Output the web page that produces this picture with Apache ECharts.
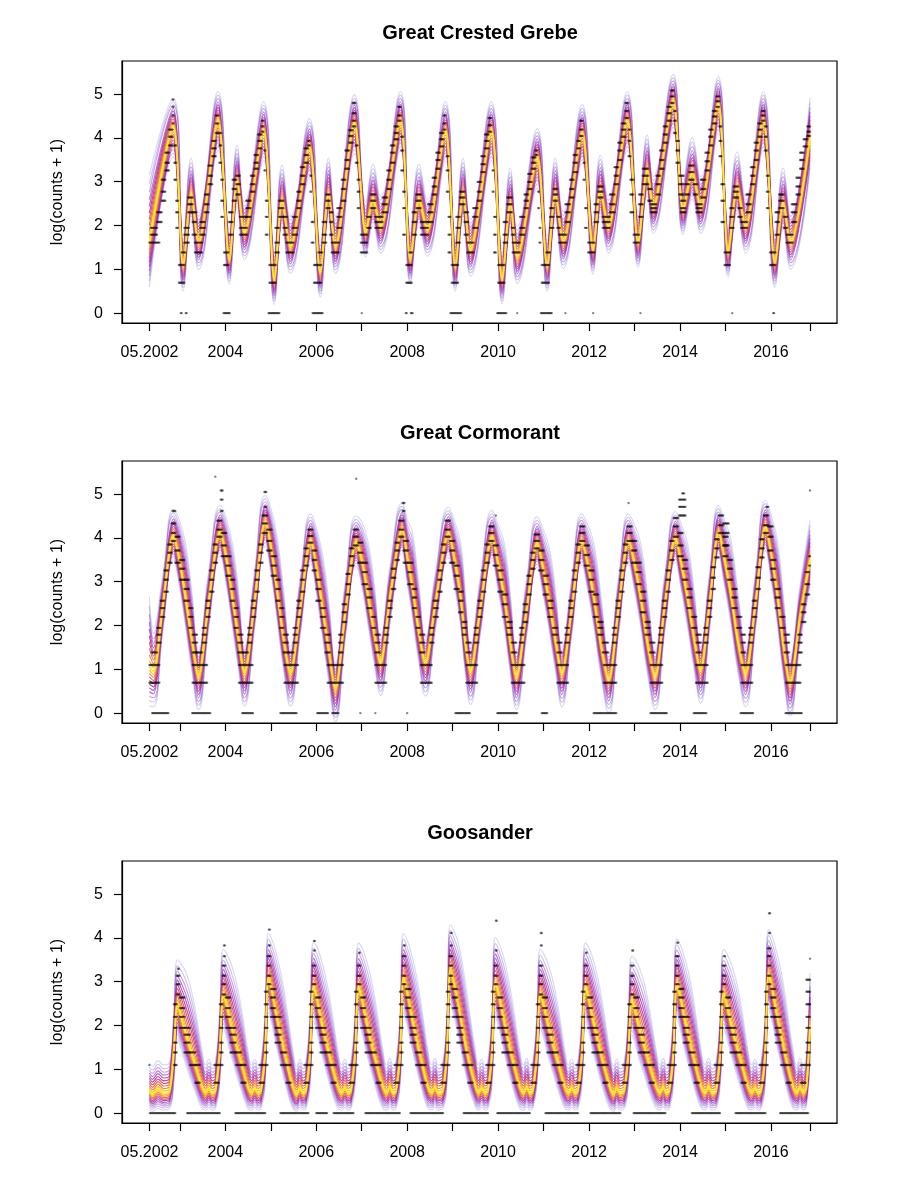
<!DOCTYPE html>
<html>
<head>
<meta charset="utf-8">
<script src="https://cdn.jsdelivr.net/npm/echarts@6/dist/echarts.min.js"></script>
<style>html,body{margin:0;padding:0;background:#fff}#chart{width:900px;height:1200px}</style>
</head>
<body>
<div id="chart"></div>
<script>
// ---------------- data ----------------
const panelTitles = ['Great Crested Grebe', 'Great Cormorant', 'Goosander'];
const yAxisName = 'log(counts + 1)';
const yTickValues = [0, 1, 2, 3, 4, 5];
const xTickValues = [2002.333, 2003, 2004, 2005, 2006, 2007, 2008, 2009, 2010, 2011, 2012, 2013, 2014, 2015, 2016, 2016.86];
const xLabelValues = [2002.333, 2004, 2006, 2008, 2010, 2012, 2014, 2016];
const xLabelTexts = ['05.2002', '2004', '2006', '2008', '2010', '2012', '2014', '2016'];
// quantile band positions (fraction of outer half-width), outer -> centre
const quantileFractions = [1, 0.87, 0.75, 0.64, 0.54, 0.44, 0.35, 0.26, 0.17, 0.085, 0];

// curve knots: [time, median, upper half-width, lower half-width]
const grebeCurve = [
[2002.33,1.6,1.55,1.0],[2002.855,4.26,0.65,0.7],[2003.075,1.06,0.7,0.55],[2003.25,2.74,0.8,0.6],[2003.41,1.6,0.7,0.6],
[2003.84,4.41,0.65,0.7],[2004.09,1.21,0.7,0.55],[2004.26,3.04,0.8,0.6],[2004.42,1.83,0.7,0.6],
[2004.84,4.18,0.65,0.7],[2005.08,0.75,0.7,0.55],[2005.25,2.58,0.8,0.6],[2005.43,1.51,0.7,0.6],
[2005.85,3.79,0.65,0.7],[2006.09,0.92,0.7,0.55],[2006.27,2.74,0.8,0.6],[2006.42,1.51,0.7,0.6],
[2006.84,4.34,0.65,0.7],[2007.09,1.83,0.7,0.55],[2007.25,2.6,0.8,0.6],[2007.41,1.97,0.7,0.6],
[2007.85,4.41,0.65,0.7],[2008.07,1.21,0.7,0.55],[2008.26,2.6,0.8,0.6],[2008.44,1.9,0.7,0.6],
[2008.84,4.18,0.65,0.7],[2009.06,1.05,0.7,0.55],[2009.23,2.74,0.8,0.6],[2009.39,1.44,0.7,0.6],
[2009.85,4.18,0.65,0.7],[2010.09,0.76,0.7,0.55],[2010.27,2.51,0.8,0.6],[2010.42,1.28,0.7,0.6],
[2010.86,3.56,0.65,0.7],[2011.08,1.05,0.7,0.55],[2011.26,2.74,0.8,0.6],[2011.43,1.62,0.7,0.6],
[2011.85,4.11,0.65,0.7],[2012.09,1.44,0.7,0.55],[2012.25,2.81,0.8,0.6],[2012.42,1.97,0.7,0.6],
[2012.84,4.41,0.65,0.7],[2013.08,1.6,0.7,0.55],[2013.28,3.27,0.8,0.6],[2013.41,2.42,0.7,0.6],
[2013.85,4.85,0.6,0.7],[2014.07,2.35,0.7,0.55],[2014.27,3.2,0.8,0.6],[2014.45,2.42,0.7,0.6],
[2014.84,4.8,0.6,0.7],[2015.06,1.37,0.7,0.55],[2015.26,2.88,0.8,0.6],[2015.44,1.97,0.7,0.6],
[2015.83,4.41,0.65,0.7],[2016.09,1.14,0.7,0.55],[2016.27,2.51,0.8,0.6],[2016.43,1.6,0.7,0.6],
[2016.86,4.02,0.9,0.7]
];
const cormorantCurve = [
[2002.33,1.06,1.6,0.9],[2002.42,0.95,1.0,0.8],[2002.62,2.4,0.7,0.6],
[2002.86,4.05,0.6,0.55],[2002.99,3.5,0.9,0.6],[2003.13,2.6,1.25,0.65],[2003.26,1.7,1.1,0.7],[2003.41,0.83,0.6,0.75],[2003.63,2.5,0.7,0.6],
[2003.89,4.14,0.6,0.55],[2004.02,3.55,0.9,0.6],[2004.16,2.6,1.25,0.65],[2004.29,1.7,1.1,0.7],[2004.42,0.91,0.6,0.75],[2004.64,2.5,0.7,0.6],
[2004.88,4.37,0.6,0.55],[2005.01,3.75,0.9,0.6],[2005.15,2.7,1.25,0.65],[2005.28,1.7,1.1,0.7],[2005.43,0.91,0.6,0.75],[2005.65,2.4,0.7,0.6],
[2005.88,3.95,0.6,0.55],[2006.01,3.3,0.9,0.6],[2006.15,2.3,1.25,0.65],[2006.28,1.4,1.1,0.7],[2006.42,0.55,0.6,0.75],[2006.64,2.3,0.7,0.6],
[2006.88,3.9,0.6,0.55],[2007.01,3.45,0.9,0.6],[2007.15,2.6,1.25,0.65],[2007.28,1.8,1.1,0.7],[2007.41,1.15,0.6,0.75],[2007.63,2.7,0.7,0.6],
[2007.89,4.2,0.6,0.55],[2008.01,3.5,0.9,0.6],[2008.11,2.9,1.25,0.65],[2008.25,1.9,1.1,0.7],[2008.4,1.14,0.6,0.75],[2008.62,2.5,0.7,0.6],
[2008.91,4.1,0.6,0.55],[2009.05,3.45,0.9,0.6],[2009.18,2.6,1.25,0.65],[2009.28,1.6,1.1,0.7],[2009.39,0.95,0.6,0.75],[2009.61,2.4,0.7,0.6],
[2009.87,4.03,0.6,0.55],[2010.0,3.4,0.9,0.6],[2010.14,2.6,1.25,0.65],[2010.27,1.6,1.1,0.7],[2010.4,0.83,0.6,0.75],[2010.62,2.3,0.7,0.6],
[2010.86,3.88,0.6,0.55],[2010.99,3.3,0.9,0.6],[2011.13,2.5,1.25,0.65],[2011.27,1.6,1.1,0.7],[2011.4,0.9,0.6,0.75],[2011.61,2.3,0.7,0.6],
[2011.84,3.95,0.6,0.55],[2011.97,3.4,0.9,0.6],[2012.11,2.6,1.25,0.65],[2012.27,1.5,1.1,0.7],[2012.43,0.76,0.6,0.75],[2012.65,2.4,0.7,0.6],
[2012.87,3.95,0.6,0.55],[2013.0,3.4,0.9,0.6],[2013.14,2.6,1.25,0.65],[2013.3,1.5,1.1,0.7],[2013.45,0.83,0.6,0.75],[2013.67,2.5,0.7,0.6],
[2013.9,4.0,0.6,0.55],[2014.03,3.4,0.9,0.6],[2014.17,2.6,1.25,0.65],[2014.31,1.7,1.1,0.7],[2014.45,0.98,0.6,0.75],[2014.65,2.5,0.7,0.6],
[2014.85,4.14,0.6,0.55],[2014.98,3.5,0.9,0.6],[2015.12,2.7,1.25,0.65],[2015.28,1.6,1.1,0.7],[2015.44,0.9,0.6,0.75],[2015.66,2.5,0.7,0.6],
[2015.88,4.26,0.6,0.55],[2016.01,3.6,0.9,0.6],[2016.14,2.7,1.25,0.65],[2016.28,1.5,1.1,0.7],[2016.42,0.68,0.6,0.75],[2016.64,2.2,0.7,0.6],
[2016.86,3.5,0.9,0.6]
];
const goosanderCurve = [
[2002.33,0.53,0.6,0.45],[2002.4,0.42,0.65,0.38],[2002.52,0.55,0.65,0.45],[2002.64,0.45,0.65,0.38],[2002.77,0.5,0.65,0.4],[2002.86,1.3,0.9,0.7],
[2002.95,2.5,1.0,0.8],[2003.03,2.2,1.2,0.75],[2003.12,1.85,1.4,0.7],[2003.23,1.45,1.45,0.65],[2003.35,1.05,1.25,0.6],[2003.48,0.62,0.85,0.5],[2003.57,0.45,0.65,0.38],[2003.64,0.58,0.65,0.45],[2003.71,0.45,0.65,0.38],[2003.78,0.5,0.65,0.4],[2003.87,1.3,0.9,0.7],
[2003.96,2.74,1.0,0.8],[2004.04,2.42,1.2,0.75],[2004.13,2.0,1.4,0.7],[2004.24,1.55,1.45,0.65],[2004.36,1.1,1.25,0.6],[2004.49,0.62,0.85,0.5],[2004.58,0.45,0.65,0.38],[2004.65,0.58,0.65,0.45],[2004.72,0.45,0.65,0.38],[2004.78,0.5,0.65,0.4],[2004.87,1.3,0.9,0.7],
[2004.95,3.1,1.0,0.8],[2005.03,2.75,1.2,0.75],[2005.12,2.25,1.4,0.7],[2005.23,1.7,1.45,0.65],[2005.35,1.15,1.25,0.6],[2005.48,0.62,0.85,0.5],[2005.57,0.42,0.65,0.38],[2005.64,0.58,0.65,0.45],[2005.71,0.45,0.65,0.38],[2005.77,0.5,0.65,0.4],[2005.86,1.3,0.9,0.7],
[2005.94,2.9,1.0,0.8],[2006.02,2.58,1.2,0.75],[2006.11,2.1,1.4,0.7],[2006.22,1.6,1.45,0.65],[2006.34,1.1,1.25,0.6],[2006.47,0.62,0.85,0.5],[2006.56,0.45,0.65,0.38],[2006.63,0.58,0.65,0.45],[2006.7,0.45,0.65,0.38],[2006.76,0.5,0.65,0.4],[2006.85,1.3,0.9,0.7],
[2006.93,2.89,1.0,0.8],[2007.01,2.57,1.2,0.75],[2007.1,2.1,1.4,0.7],[2007.21,1.6,1.45,0.65],[2007.33,1.1,1.25,0.6],[2007.46,0.62,0.85,0.5],[2007.55,0.45,0.65,0.38],[2007.62,0.6,0.65,0.45],[2007.69,0.45,0.65,0.38],[2007.75,0.5,0.65,0.4],[2007.84,1.3,0.9,0.7],
[2007.92,3.1,1.0,0.8],[2008.0,2.75,1.2,0.75],[2008.09,2.25,1.4,0.7],[2008.2,1.7,1.45,0.65],[2008.32,1.15,1.25,0.6],[2008.45,0.62,0.85,0.5],[2008.54,0.45,0.65,0.38],[2008.61,0.6,0.65,0.45],[2008.68,0.45,0.65,0.38],[2008.78,0.5,0.65,0.4],[2008.87,1.3,0.9,0.7],
[2008.95,3.3,1.0,0.8],[2009.03,2.95,1.2,0.75],[2009.12,2.5,1.4,0.7],[2009.23,1.85,1.45,0.65],[2009.35,1.22,1.25,0.6],[2009.48,0.7,0.85,0.5],[2009.57,0.45,0.65,0.38],[2009.64,0.58,0.65,0.45],[2009.71,0.45,0.65,0.38],[2009.77,0.5,0.65,0.4],[2009.86,1.3,0.9,0.7],
[2009.94,3.0,1.0,0.8],[2010.02,2.67,1.2,0.75],[2010.11,2.2,1.4,0.7],[2010.22,1.65,1.45,0.65],[2010.34,1.12,1.25,0.6],[2010.47,0.62,0.85,0.5],[2010.56,0.45,0.65,0.38],[2010.63,0.6,0.65,0.45],[2010.7,0.45,0.65,0.38],[2010.76,0.5,0.65,0.4],[2010.85,1.3,0.9,0.7],
[2010.93,2.74,1.0,0.8],[2011.01,2.42,1.2,0.75],[2011.1,2.0,1.4,0.7],[2011.21,1.55,1.45,0.65],[2011.33,1.1,1.25,0.6],[2011.46,0.62,0.85,0.5],[2011.55,0.45,0.65,0.38],[2011.62,0.58,0.65,0.45],[2011.69,0.45,0.65,0.38],[2011.75,0.5,0.65,0.4],[2011.84,1.3,0.9,0.7],
[2011.92,2.89,1.0,0.8],[2012.0,2.57,1.2,0.75],[2012.09,2.1,1.4,0.7],[2012.2,1.6,1.45,0.65],[2012.32,1.1,1.25,0.6],[2012.45,0.62,0.85,0.5],[2012.54,0.42,0.65,0.38],[2012.61,0.58,0.65,0.45],[2012.68,0.45,0.65,0.38],[2012.77,0.5,0.65,0.4],[2012.86,1.3,0.9,0.7],
[2012.94,2.58,1.0,0.8],[2013.02,2.3,1.2,0.75],[2013.11,1.9,1.4,0.7],[2013.22,1.5,1.45,0.65],[2013.34,1.05,1.25,0.6],[2013.47,0.62,0.85,0.5],[2013.56,0.45,0.65,0.38],[2013.63,0.6,0.65,0.45],[2013.7,0.45,0.65,0.38],[2013.76,0.5,0.65,0.4],[2013.85,1.3,0.9,0.7],
[2013.93,2.97,1.0,0.8],[2014.01,2.64,1.2,0.75],[2014.1,2.15,1.4,0.7],[2014.21,1.65,1.45,0.65],[2014.33,1.12,1.25,0.6],[2014.46,0.62,0.85,0.5],[2014.55,0.45,0.65,0.38],[2014.63,0.6,0.65,0.45],[2014.71,0.45,0.65,0.38],[2014.79,0.5,0.65,0.4],[2014.88,1.3,0.9,0.7],
[2014.96,2.74,1.0,0.8],[2015.04,2.42,1.2,0.75],[2015.13,2.0,1.4,0.7],[2015.24,1.55,1.45,0.65],[2015.36,1.1,1.25,0.6],[2015.49,0.62,0.85,0.5],[2015.58,0.45,0.65,0.38],[2015.65,0.58,0.65,0.45],[2015.72,0.45,0.65,0.38],[2015.78,0.5,0.65,0.4],[2015.87,1.3,0.9,0.7],
[2015.95,3.19,1.0,0.8],[2016.03,2.82,1.2,0.75],[2016.12,2.3,1.4,0.7],[2016.23,1.75,1.45,0.65],[2016.35,1.15,1.25,0.6],[2016.48,0.62,0.85,0.5],[2016.57,0.45,0.65,0.38],[2016.64,0.6,0.65,0.45],[2016.71,0.45,0.65,0.38],[2016.78,0.6,0.7,0.45],[2016.86,2.0,1.2,0.8]
];

// observations: [from time, to time, [counts seen in that window]]
const grebeObs = [
[2002.33,2002.55,[4]],[2002.36,2002.5,[5,6]],[2002.5,2002.6,[7,9]],[2002.6,2002.68,[12,15,20]],[2002.68,2002.76,[25,30,38]],[2002.76,2002.84,[45,55,65]],[2002.84,2002.86,[75,90,110,130]],
[2002.88,2002.92,[20,30,45]],[2002.92,2002.97,[6,9,12]],[2002.98,2003.1,[1,2]],[2003.02,2003.05,[0]],[2003.13,2003.15,[0]],[2003.04,2003.12,[3]],
[2003.1,2003.2,[4,5,6]],[2003.18,2003.28,[9,11,13]],[2003.28,2003.36,[5,7,9]],[2003.33,2003.5,[3,4]],
[2003.45,2003.55,[5,6,7]],[2003.55,2003.63,[9,11,14]],[2003.63,2003.71,[18,22,28]],[2003.71,2003.79,[35,42,50]],[2003.79,2003.86,[60,75,90]],
[2003.87,2003.91,[30,45,60]],[2003.91,2003.96,[8,12,20]],[2003.96,2004.1,[0]],[2003.97,2004.08,[2,3]],
[2004.08,2004.16,[5,7,9]],[2004.16,2004.24,[12,16,20]],[2004.24,2004.32,[14,18,22]],[2004.32,2004.48,[5,6,8]],
[2004.46,2004.56,[8,10,12]],[2004.56,2004.64,[15,18,22]],[2004.64,2004.72,[26,30,36]],[2004.72,2004.8,[42,50,58]],[2004.8,2004.85,[62,70,80]],
[2004.86,2004.89,[25,40]],[2004.89,2004.94,[5,8,12]],[2004.95,2005.2,[0]],[2004.97,2005.12,[1,2]],
[2005.1,2005.18,[3,4,6]],[2005.18,2005.28,[8,10,12]],[2005.28,2005.36,[5,6,8]],[2005.34,2005.5,[3,4]],
[2005.48,2005.58,[5,6,8]],[2005.58,2005.66,[10,12,15]],[2005.66,2005.74,[18,22,27]],[2005.74,2005.82,[30,36,42]],[2005.82,2005.86,[45,50]],
[2005.87,2005.9,[15,22]],[2005.9,2005.94,[4,7]],[2005.92,2006.15,[0]],[2005.95,2006.12,[1,2]],[2006.05,2006.14,[3]],
[2006.14,2006.22,[4,5,7]],[2006.22,2006.3,[10,12,14]],[2006.3,2006.36,[5,7,9]],[2006.34,2006.5,[3,4]],
[2006.46,2006.56,[6,8,10]],[2006.56,2006.64,[12,16,20]],[2006.64,2006.72,[26,32,40]],[2006.72,2006.8,[48,56,64]],[2006.8,2006.86,[70,80,95,120]],
[2006.87,2006.91,[30,45]],[2006.91,2006.96,[10,15,20]],[2007.0,2007.01,[0]],[2006.98,2007.12,[3,4,5]],
[2007.12,2007.2,[6,8]],[2007.2,2007.3,[10,12,14]],[2007.3,2007.46,[6,7,8]],
[2007.46,2007.56,[9,11,13]],[2007.56,2007.64,[16,20,25]],[2007.64,2007.72,[30,38,45]],[2007.72,2007.8,[52,60,70]],[2007.8,2007.86,[80,90,110]],
[2007.87,2007.91,[25,40,55]],[2007.91,2007.96,[5,10,15]],[2007.97,2008.0,[0]],[2008.08,2008.12,[0]],[2007.98,2008.1,[1,2]],[2008.05,2008.12,[3]],
[2008.12,2008.2,[5,7,9]],[2008.2,2008.3,[10,12,14]],[2008.3,2008.46,[5,6,7]],
[2008.46,2008.56,[7,9,11]],[2008.56,2008.64,[14,17,21]],[2008.64,2008.72,[26,32,38]],[2008.72,2008.8,[44,52,60]],[2008.8,2008.85,[65,75,90]],
[2008.87,2008.91,[15,25,35]],[2008.91,2008.95,[3,5,8]],[2008.95,2009.2,[0]],[2008.98,2009.12,[1,2]],
[2009.08,2009.16,[4,6,8]],[2009.16,2009.26,[11,13,15]],[2009.26,2009.34,[5,7,9]],[2009.32,2009.46,[3,4]],
[2009.45,2009.55,[6,8,10]],[2009.55,2009.63,[12,15,19]],[2009.63,2009.71,[24,29,35]],[2009.71,2009.79,[42,50,58]],[2009.79,2009.86,[62,72,85]],
[2009.88,2009.91,[15,25]],[2009.91,2009.96,[3,5,8]],[2009.98,2010.18,[0]],[2010.0,2010.14,[1,2]],
[2010.12,2010.2,[4,5,7]],[2010.2,2010.3,[9,11,13]],[2010.3,2010.36,[5,6]],[2010.32,2010.48,[3,4]],[2010.42,2010.43,[0]],
[2010.48,2010.58,[5,6,8]],[2010.58,2010.66,[10,12,14]],[2010.66,2010.74,[16,19,23]],[2010.74,2010.82,[26,30,34]],[2010.82,2010.86,[36,40]],
[2010.88,2010.91,[10,15]],[2010.91,2010.94,[4,6]],[2010.94,2011.18,[0]],[2010.96,2011.12,[1,2]],[2011.06,2011.15,[3]],
[2011.14,2011.22,[6,8,10]],[2011.22,2011.3,[12,14,16]],[2011.3,2011.36,[6,8]],[2011.34,2011.5,[4,5]],[2011.48,2011.49,[0]],
[2011.48,2011.58,[7,9,11]],[2011.58,2011.66,[13,16,20]],[2011.66,2011.74,[24,30,36]],[2011.74,2011.8,[42,50]],[2011.8,2011.86,[56,65,80]],
[2011.88,2011.91,[20,30]],[2011.91,2011.96,[6,10]],[2011.98,2012.12,[3,4]],[2012.09,2012.1,[0]],
[2012.12,2012.2,[7,9,11]],[2012.2,2012.3,[13,15,17]],[2012.3,2012.46,[6,7,8]],
[2012.46,2012.56,[9,11,14]],[2012.56,2012.64,[18,22,27]],[2012.64,2012.72,[32,40,48]],[2012.72,2012.8,[55,65,75]],[2012.8,2012.86,[85,100,120]],
[2012.87,2012.91,[35,50,65]],[2012.91,2012.97,[9,14,20]],[2012.98,2013.1,[4,5]],[2013.13,2013.14,[0]],
[2013.1,2013.18,[8,11,14]],[2013.18,2013.3,[18,22,26]],[2013.3,2013.38,[12,16]],[2013.36,2013.48,[9,10,11]],
[2013.48,2013.56,[14,18,22]],[2013.56,2013.64,[26,32,40]],[2013.64,2013.72,[48,58,70]],[2013.72,2013.8,[80,95,110]],[2013.8,2013.86,[120,140,160]],
[2013.87,2013.92,[60,80,100]],[2013.92,2013.98,[30,40,50]],[2013.98,2014.08,[14,18,22]],[2014.02,2014.12,[9,10,12]],
[2014.12,2014.2,[14,18]],[2014.2,2014.3,[20,24,28]],[2014.3,2014.38,[14,18]],[2014.36,2014.48,[9,10,11]],
[2014.46,2014.56,[13,16,20]],[2014.56,2014.64,[25,31,38]],[2014.64,2014.72,[45,55,65]],[2014.72,2014.8,[75,88,100]],[2014.8,2014.86,[110,125,140]],
[2014.87,2014.91,[35,50,70]],[2014.91,2014.97,[7,12,18]],[2014.98,2015.1,[2,3]],[2015.15,2015.16,[0]],
[2015.1,2015.18,[6,8,10]],[2015.18,2015.28,[13,15,17]],[2015.28,2015.36,[8,10]],[2015.34,2015.48,[6,7]],
[2015.46,2015.56,[9,11,14]],[2015.56,2015.64,[18,22,27]],[2015.64,2015.72,[32,40,48]],[2015.72,2015.8,[55,65,75]],[2015.8,2015.86,[80,90,100]],
[2015.87,2015.91,[40,55,70]],[2015.91,2015.96,[10,15,22]],[2015.98,2016.1,[2,3]],[2016.05,2016.07,[0]],
[2016.1,2016.18,[5,7,9]],[2016.18,2016.28,[10,12,14]],[2016.28,2016.36,[6,8]],[2016.34,2016.48,[4,5]],
[2016.46,2016.56,[7,9,11]],[2016.56,2016.64,[14,17,21]],[2016.64,2016.72,[26,32,38]],[2016.72,2016.8,[44,52]],[2016.8,2016.86,[56,62,70]]
];
const cormorantObs = [
[2002.33,2002.55,[1,2]],[2002.39,2002.75,[0]],[2002.38,2002.5,[3]],[2002.5,2002.58,[4,5,6]],[2002.58,2002.66,[8,10,12]],[2002.66,2002.74,[15,20,25]],[2002.74,2002.82,[30,38,46]],[2002.82,2002.9,[50,60,75]],[2002.84,2002.9,[100]],
[2002.9,2003.0,[30,40,55]],[2003.0,2003.1,[20,26,32]],[2003.1,2003.2,[12,16,20]],[2003.2,2003.28,[6,8,10]],[2003.28,2003.38,[3,4,5]],[2003.27,2003.67,[0]],[2003.28,2003.6,[1,2]],[2003.35,2003.5,[3]],
[2003.5,2003.58,[4,5,6]],[2003.58,2003.66,[8,10,12]],[2003.66,2003.74,[15,20,25]],[2003.74,2003.82,[30,38,46]],[2003.82,2003.92,[55,65,80]],[2003.78,2003.78,[220]],[2003.9,2003.95,[100,130,160]],
[2003.92,2004.02,[35,45,60]],[2004.02,2004.12,[22,28,35]],[2004.12,2004.2,[12,16,20]],[2004.2,2004.28,[6,8,10]],[2004.28,2004.38,[3,4,5]],[2004.37,2004.62,[0]],[2004.3,2004.6,[1,2]],[2004.38,2004.5,[3]],
[2004.5,2004.58,[4,5,6]],[2004.58,2004.66,[8,10,12]],[2004.66,2004.74,[15,20,25]],[2004.74,2004.82,[30,38,46]],[2004.82,2004.92,[60,75,90]],[2004.86,2004.9,[110,155]],
[2004.92,2005.02,[40,50,65]],[2005.02,2005.12,[22,28,35]],[2005.12,2005.2,[12,16,20]],[2005.2,2005.28,[6,8,10]],[2005.28,2005.38,[3,4,5]],[2005.21,2005.58,[0]],[2005.3,2005.6,[1,2]],[2005.38,2005.5,[3]],
[2005.5,2005.58,[4,5,6]],[2005.58,2005.66,[8,10,12]],[2005.66,2005.74,[15,20,25]],[2005.74,2005.82,[28,35,42]],[2005.82,2005.92,[48,56,65]],
[2005.92,2006.0,[25,32,40]],[2006.0,2006.1,[12,16,20]],[2006.1,2006.2,[6,8,10]],[2006.2,2006.3,[3,4,5]],[2006.02,2006.27,[0]],[2006.25,2006.6,[1,2]],[2006.35,2006.5,[0]],
[2006.5,2006.58,[3,4,5]],[2006.58,2006.66,[7,9,11]],[2006.66,2006.74,[14,18,23]],[2006.74,2006.82,[28,35,42]],[2006.82,2006.92,[45,55,65]],[2006.88,2006.88,[210]],
[2006.92,2007.02,[30,38,48]],[2007.02,2007.12,[18,24,30]],[2007.12,2007.22,[10,13,16]],[2007.22,2007.3,[6,8]],[2007.3,2007.4,[3,4,5]],[2006.97,2006.98,[0]],[2007.3,2007.31,[0]],[2007.3,2007.55,[1,2]],
[2007.5,2007.58,[4,5,6]],[2007.58,2007.66,[8,10,12]],[2007.66,2007.74,[16,21,26]],[2007.74,2007.82,[32,40,48]],[2007.82,2007.92,[55,65,80]],[2007.9,2007.94,[100,120]],
[2007.92,2008.02,[30,40,50]],[2008.02,2008.12,[18,24,30]],[2008.12,2008.2,[10,13,16]],[2008.2,2008.28,[6,8]],[2008.28,2008.38,[3,4,5]],[2008.0,2008.01,[0]],[2008.3,2008.55,[1,2]],
[2008.5,2008.58,[4,5,6]],[2008.58,2008.68,[8,10,12]],[2008.68,2008.76,[15,20,25]],[2008.76,2008.84,[30,38,46]],[2008.84,2008.94,[55,65,80]],
[2008.94,2009.04,[30,40,50]],[2009.04,2009.14,[16,22,28]],[2009.14,2009.22,[9,12,15]],[2009.22,2009.3,[5,6,7]],[2009.3,2009.4,[3,4]],[2009.06,2009.39,[0]],[2009.3,2009.55,[1,2]],
[2009.48,2009.56,[4,5,6]],[2009.56,2009.64,[8,10,12]],[2009.64,2009.72,[15,20,25]],[2009.72,2009.8,[30,38,46]],[2009.8,2009.9,[50,60,70]],[2009.95,2009.95,[90]],
[2009.9,2010.0,[28,36,45]],[2010.0,2010.1,[15,20,25]],[2010.1,2010.2,[8,11,14]],[2010.2,2010.3,[5,6,7]],[2010.3,2010.4,[3,4]],[2009.98,2010.42,[0]],[2010.3,2010.58,[1,2]],
[2010.48,2010.56,[4,5,6]],[2010.56,2010.64,[7,9,11]],[2010.64,2010.72,[14,18,22]],[2010.72,2010.8,[26,32,38]],[2010.8,2010.9,[42,50,58]],
[2010.9,2011.0,[25,32,40]],[2011.0,2011.1,[14,18,22]],[2011.1,2011.2,[8,10,12]],[2011.2,2011.3,[5,6]],[2011.3,2011.4,[3,4]],[2010.96,2011.08,[0]],[2011.3,2011.55,[1,2]],
[2011.48,2011.56,[4,5,6]],[2011.56,2011.64,[8,10,12]],[2011.64,2011.72,[15,20,25]],[2011.72,2011.8,[30,38,46]],[2011.8,2011.9,[50,60,70]],
[2011.9,2012.0,[28,36,45]],[2012.0,2012.1,[15,20,25]],[2012.1,2012.2,[8,11,14]],[2012.2,2012.3,[5,6,7]],[2012.3,2012.42,[3,4]],[2012.1,2012.61,[0]],[2012.32,2012.6,[1,2]],
[2012.52,2012.6,[4,5,6]],[2012.6,2012.68,[8,10,12]],[2012.68,2012.76,[15,20,25]],[2012.76,2012.84,[30,38,46]],[2012.84,2012.94,[50,60,70]],[2012.87,2012.87,[120]],
[2012.94,2013.04,[30,40,50]],[2013.04,2013.14,[18,24,30]],[2013.14,2013.24,[9,12,15]],[2013.24,2013.34,[5,6,7]],[2013.34,2013.44,[3,4]],[2013.35,2013.71,[0]],[2013.35,2013.62,[1,2]],
[2013.54,2013.62,[4,5,6]],[2013.62,2013.7,[8,10,12]],[2013.7,2013.78,[15,20,25]],[2013.78,2013.86,[32,40,50]],[2013.86,2013.96,[55,70,85]],[2013.98,2014.12,[90,110,130]],[2014.05,2014.1,[150]],
[2013.96,2014.06,[35,45,60]],[2014.06,2014.16,[20,26,32]],[2014.16,2014.26,[10,13,16]],[2014.26,2014.36,[6,8]],[2014.36,2014.46,[3,4,5]],[2014.3,2014.59,[0]],[2014.35,2014.62,[1,2]],
[2014.53,2014.61,[4,5,6]],[2014.61,2014.69,[8,10,12]],[2014.69,2014.77,[16,21,27]],[2014.77,2014.85,[34,42,52]],[2014.85,2014.95,[60,72,90]],[2014.95,2015.08,[45,60,75]],
[2014.95,2015.05,[35,45,55]],[2015.05,2015.15,[20,26,32]],[2015.15,2015.25,[10,13,16]],[2015.25,2015.35,[6,8]],[2015.35,2015.44,[3,4,5]],[2015.33,2015.62,[0]],[2015.35,2015.6,[1,2]],
[2015.52,2015.6,[4,5,6]],[2015.6,2015.68,[8,10,12]],[2015.68,2015.76,[16,21,27]],[2015.76,2015.84,[34,42,52]],[2015.84,2015.94,[60,72,90]],[2015.94,2016.05,[40,55,70]],[2015.9,2015.95,[110]],
[2016.0,2016.1,[20,26,32]],[2016.1,2016.2,[10,13,16]],[2016.2,2016.3,[6,8]],[2016.3,2016.4,[3,4,5]],[2016.32,2016.68,[0]],[2016.33,2016.66,[1,2]],
[2016.6,2016.68,[3,4,5]],[2016.68,2016.76,[7,9,11]],[2016.76,2016.84,[14,18,24]],[2016.84,2016.86,[28,35]],[2016.86,2016.86,[160]]
];
const goosanderObs = [
[2002.34,2002.9,[0]],[2003.16,2003.89,[0]],[2004.22,2004.88,[0]],[2005.21,2005.83,[0]],[2006.0,2006.24,[0]],[2006.38,2006.82,[0]],[2007.08,2007.85,[0]],[2008.07,2008.8,[0]],
[2009.24,2009.79,[0]],[2009.98,2010.71,[0]],[2011.04,2011.77,[0]],[2012.03,2012.69,[0]],[2012.98,2013.68,[0]],[2014.26,2014.89,[0]],[2015.22,2015.88,[0]],[2016.2,2016.83,[0]],
[2002.33,2002.33,[2]],[2002.87,2002.94,[2,3,4,6,8,11]],[2002.93,2003.0,[14,18,22]],[2002.96,2002.98,[26]],[2003.0,2003.1,[6,8,10,13]],[2003.1,2003.22,[3,4,5,6]],[2003.22,2003.34,[2,3]],[2003.34,2003.44,[1,2]],
[2003.76,2003.86,[1,2]],[2003.88,2003.95,[2,3,4,6,8,11]],[2003.94,2004.01,[14,18,22,28]],[2003.97,2004.0,[35,45]],[2004.01,2004.11,[6,8,10,13]],[2004.11,2004.23,[3,4,5,6]],[2004.23,2004.35,[2,3]],[2004.35,2004.45,[1,2]],
[2004.75,2004.85,[1,2]],[2004.87,2004.94,[2,3,4,6,8,11,15]],[2004.93,2005.0,[18,22,28,35]],[2004.96,2004.99,[45,65]],[2005.0,2005.1,[8,10,13,16]],[2005.1,2005.22,[4,5,6,8]],[2005.22,2005.34,[2,3]],[2005.34,2005.44,[1,2]],
[2005.74,2005.84,[1,2]],[2005.86,2005.93,[2,3,4,6,8,11,15]],[2005.92,2005.99,[18,22,28]],[2005.95,2005.98,[40,50]],[2005.99,2006.09,[6,8,10,13]],[2006.09,2006.21,[3,4,5,6]],[2006.21,2006.33,[2,3]],[2006.33,2006.43,[1,2]],
[2006.73,2006.83,[1,2]],[2006.85,2006.92,[2,3,4,6,8,11,15]],[2006.91,2006.98,[18,22,28]],[2006.94,2006.97,[38]],[2006.98,2007.08,[6,8,10,13]],[2007.08,2007.2,[3,4,5,6]],[2007.2,2007.32,[2,3]],[2007.32,2007.42,[1,2]],
[2007.72,2007.82,[1,2]],[2007.84,2007.91,[2,3,4,6,8,11,15]],[2007.9,2007.97,[18,22,28,35]],[2007.93,2007.96,[45]],[2007.97,2008.07,[8,10,13,16]],[2008.07,2008.19,[4,5,6,8]],[2008.19,2008.31,[2,3]],[2008.31,2008.41,[1,2]],
[2008.75,2008.85,[1,2]],[2008.87,2008.94,[2,3,4,6,8,11,15]],[2008.93,2009.0,[18,22,28,35]],[2008.96,2008.99,[45,60]],[2009.0,2009.1,[8,10,13,16]],[2009.1,2009.22,[4,5,6,8]],[2009.22,2009.34,[2,3]],[2009.34,2009.44,[1,2]],
[2009.74,2009.84,[1,2]],[2009.86,2009.93,[2,3,4,6,8,11,15]],[2009.92,2009.99,[18,22,28]],[2009.95,2009.98,[40,80]],[2009.99,2010.09,[6,8,10,13]],[2010.09,2010.21,[3,4,5,6]],[2010.21,2010.33,[2,3]],[2010.33,2010.43,[1,2]],
[2010.73,2010.83,[1,2]],[2010.85,2010.92,[2,3,4,6,8,11]],[2010.91,2010.98,[14,18,22,28]],[2010.94,2010.97,[45,60]],[2010.98,2011.08,[6,8,10,13]],[2011.08,2011.2,[3,4,5,6]],[2011.2,2011.32,[2,3]],[2011.32,2011.42,[1,2]],
[2011.72,2011.82,[1,2]],[2011.84,2011.91,[2,3,4,6,8,11,15]],[2011.9,2011.97,[18,22,28]],[2011.93,2011.96,[38]],[2011.97,2012.07,[6,8,10,13]],[2012.07,2012.19,[3,4,5,6]],[2012.19,2012.31,[2,3]],[2012.31,2012.41,[1,2]],
[2012.74,2012.84,[1,2]],[2012.86,2012.93,[2,3,4,6,8,11]],[2012.92,2012.99,[14,18,22,28]],[2012.95,2012.98,[40]],[2012.99,2013.09,[6,8,10,13]],[2013.09,2013.21,[3,4,5,6]],[2013.21,2013.33,[2,3]],[2013.33,2013.43,[1,2]],
[2013.73,2013.83,[1,2]],[2013.85,2013.92,[2,3,4,6,8,11,15]],[2013.91,2013.98,[18,22,28,35]],[2013.94,2013.97,[48]],[2013.98,2014.08,[8,10,13,16]],[2014.08,2014.2,[4,5,6,8]],[2014.2,2014.32,[2,3]],[2014.32,2014.42,[1,2]],
[2014.76,2014.86,[1,2]],[2014.88,2014.95,[2,3,4,6,8,11,15]],[2014.94,2015.01,[18,22,28]],[2014.97,2015.0,[35]],[2015.01,2015.11,[6,8,10,13]],[2015.11,2015.23,[3,4,5,6]],[2015.23,2015.35,[2,3]],[2015.35,2015.45,[1,2]],
[2015.75,2015.85,[1,2]],[2015.87,2015.94,[2,3,4,6,8,11,15]],[2015.93,2016.0,[18,22,28,35,42]],[2015.96,2015.99,[60,95]],[2016.0,2016.1,[8,10,13,16]],[2016.1,2016.22,[4,5,6,8]],[2016.22,2016.34,[2,3]],[2016.34,2016.44,[1,2]],
[2016.66,2016.76,[1,2]],[2016.78,2016.86,[2,3,4,6,8,11,15,20]],[2016.86,2016.86,[33]]
];

// ---------------- styling ----------------
const FONT = 'Liberation Sans, Arial, Helvetica, sans-serif';
const bandColors = [
  'rgba(110,100,210,0.25)', 'rgba(120,90,210,0.35)', 'rgba(130,60,200,0.45)', 'rgba(140,40,190,0.6)',
  'rgba(150,30,170,0.7)', 'rgba(180,42,144,0.85)', 'rgba(206,72,118,0.9)', 'rgba(228,102,96,0.95)',
  'rgba(243,136,72,1)', 'rgba(252,184,48,1)', 'rgba(246,238,30,1)'
];
const curves = [grebeCurve, cormorantCurve, goosanderCurve];
const observations = [grebeObs, cormorantObs, goosanderObs];
const panelTops = [61, 461, 861];
const OBS_STEP = 0.02;

const grids = [], xAxes = [], yAxes = [], titles = [], series = [];
panelTops.forEach((top, p) => {
  grids.push({ left: 122, top: top, width: 715, height: 262, show: true, borderColor: '#000', borderWidth: 1.2, backgroundColor: 'transparent' });
  titles.push({ text: panelTitles[p], left: 475, top: top - 43, textAlign: 'center',
    textStyle: { fontFamily: FONT, fontSize: 20, fontWeight: 'bold', color: '#000' } });
  xAxes.push({
    gridIndex: p, type: 'value', min: 2001.728, max: 2017.453,
    axisLine: { show: true, onZero: false, lineStyle: { color: '#000', width: 1.2 } },
    axisTick: { show: true, length: 8, customValues: xTickValues, lineStyle: { color: '#000', width: 1.2 } },
    axisLabel: { show: true, customValues: xLabelValues, margin: 22, color: '#000', fontSize: 16, fontFamily: FONT,
      formatter: v => { const i = xLabelValues.findIndex(x => Math.abs(x - v) < 1e-6); return i >= 0 ? xLabelTexts[i] : ''; } },
    splitLine: { show: false }
  });
  yAxes.push({
    gridIndex: p, type: 'value', min: -0.226, max: 5.756,
    name: yAxisName, nameLocation: 'middle', nameGap: 56, nameRotate: 90,
    nameTextStyle: { fontFamily: FONT, fontSize: 16, color: '#000' },
    axisLine: { show: true, onZero: false, lineStyle: { color: '#000', width: 1.2 } },
    axisTick: { show: true, length: 8, customValues: yTickValues, lineStyle: { color: '#000', width: 1.2 } },
    axisLabel: { show: true, customValues: yTickValues, margin: 19, color: '#000', fontSize: 16, fontFamily: FONT },
    splitLine: { show: false }
  });

  const curve = curves[p];
  quantileFractions.forEach((f, k) => {
    const color = bandColors[k];
    const smooth = k < 3 ? 0.5 : 0.3;
    const sides = f === 0 ? [0] : [-1, 1];
    sides.forEach(s => {
      series.push({
        type: 'line', xAxisIndex: p, yAxisIndex: p, symbol: 'none', showSymbol: false, silent: true,
        smooth: smooth, animation: false,
        lineStyle: { color: color, width: f === 0 ? 1.8 : 1.2 },
        data: curve.map(c => [c[0], s === 0 ? c[1] : (s > 0 ? c[1] + f * c[2] : c[1] - f * c[3])])
      });
    });
  });

  const pts = [];
  observations[p].forEach(([t0, t1, counts]) => {
    counts.forEach(c => {
      const v = Math.log(c + 1);
      if (t1 <= t0) { pts.push([t0, v]); return; }
      for (let t = t0; t <= t1 + 1e-9; t += OBS_STEP) pts.push([t, v]);
    });
  });
  series.push({
    type: 'scatter', xAxisIndex: p, yAxisIndex: p, silent: true, animation: false,
    symbolSize: 2.4, itemStyle: { color: 'rgba(0,0,0,0.6)' }, z: 5, data: pts
  });
});

const chart = echarts.init(document.getElementById('chart'), null, { renderer: 'canvas', width: 900, height: 1200 });
chart.setOption({
  backgroundColor: '#fff', animation: false,
  title: titles, grid: grids, xAxis: xAxes, yAxis: yAxes, series: series
});
</script>
</body>
</html>
